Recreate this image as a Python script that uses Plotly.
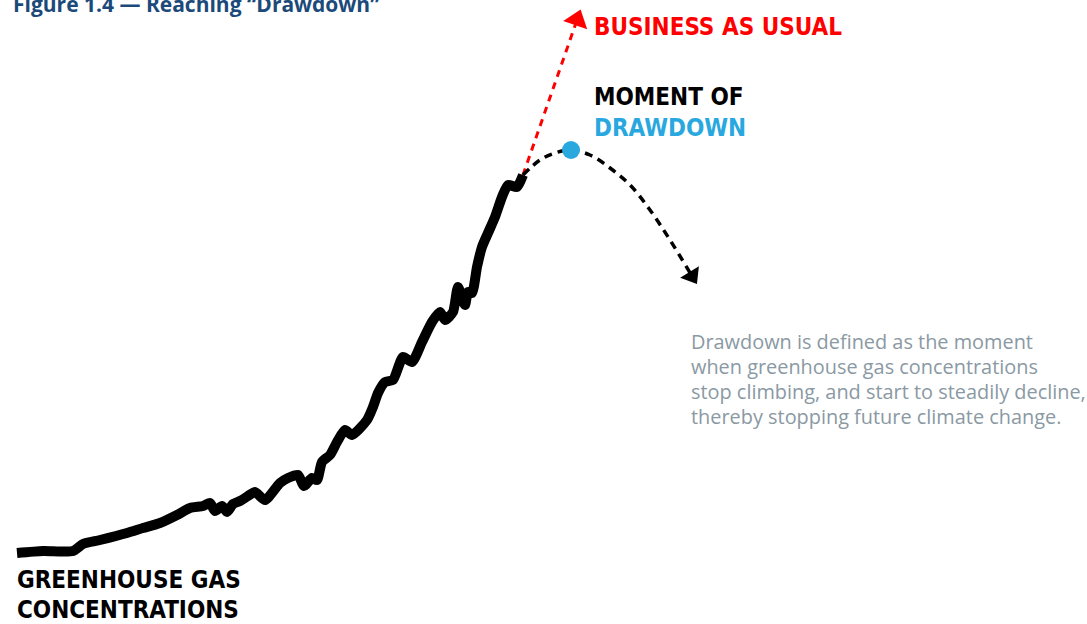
import plotly.graph_objects as go

# Historic greenhouse gas concentration (arbitrary index)
hist_t = [17, 43, 73, 83, 100, 127, 143, 160, 177, 190, 203, 210, 215, 222, 227,
          233, 240, 248, 255, 265, 280, 288, 298, 304, 312, 317, 322, 330, 337,
          345, 352, 367, 373, 378, 385, 393, 403, 412, 422, 432, 440, 445, 453,
          458, 465, 468, 472, 477, 482, 488, 495, 502, 508, 517, 523]
hist_level = [71, 73, 73, 80, 84, 91, 96, 101, 109, 116, 118, 121, 113, 118, 112,
              120, 123, 128, 132, 124, 141, 146, 149, 138, 146, 144, 162, 169, 182,
              194, 189, 204, 217, 231, 242, 244, 267, 262, 282, 302, 312, 304, 312,
              337, 319, 332, 331, 357, 377, 391, 407, 427, 439, 437, 449]

# Business-as-usual projection
bau_t = [523, 577]
bau_level = [449, 604]

# Drawdown projection
dd_t = [523, 540, 555, 571, 590, 610, 630, 650, 670, 692]
dd_level = [449, 464, 471, 474, 469, 456, 439, 414, 384, 348]

peak_t = [571]
peak_level = [474]

note_lines = [
    "Drawdown is defined as the moment",
    "when greenhouse gas concentrations",
    "stop climbing, and start to steadily decline,",
    "thereby stopping future climate change.",
]

fig = go.Figure()

fig.add_trace(go.Scatter(
    x=hist_t, y=hist_level,
    mode="lines",
    line=dict(color="#000000", width=10, shape="spline", smoothing=0.6),
    hoverinfo="skip", showlegend=False,
))

fig.add_trace(go.Scatter(
    x=bau_t, y=bau_level,
    mode="lines+markers",
    line=dict(color="#ff0000", width=3, dash="7px,6px"),
    marker=dict(symbol="triangle-up", size=[0, 22], color="#ff0000",
                opacity=1, line=dict(width=0), angleref="previous"),
    hoverinfo="skip", showlegend=False,
))

fig.add_trace(go.Scatter(
    x=dd_t, y=dd_level,
    mode="lines+markers",
    line=dict(color="#000000", width=3.5, dash="8px,6px", shape="spline"),
    marker=dict(symbol="triangle-up", size=[0] * (len(dd_t) - 1) + [19],
                color="#000000", opacity=1, line=dict(width=0),
                angleref="previous"),
    hoverinfo="skip", showlegend=False,
))

fig.add_trace(go.Scatter(
    x=peak_t, y=peak_level,
    mode="markers",
    marker=dict(size=18, color="#29a8e0"),
    hoverinfo="skip", showlegend=False,
))

head = dict(family="DejaVu Sans Condensed", size=24, color="#000000")

fig.add_annotation(x=592, y=597, text="<b>BUSINESS AS USUAL</b>",
                   font=dict(head, color="#ff0000"))
fig.add_annotation(x=592, y=527, text="<b>MOMENT OF</b>", font=head)
fig.add_annotation(x=592, y=496, text="<b>DRAWDOWN</b>",
                   font=dict(head, color="#29a8e0"))
fig.add_annotation(x=15, y=44, text="<b>GREENHOUSE GAS</b>", font=head)
fig.add_annotation(x=15, y=14, text="<b>CONCENTRATIONS</b>", font=head)

for i, line in enumerate(note_lines):
    fig.add_annotation(
        x=689, y=283 - 25.3 * i, text=line,
        font=dict(family="Open Sans", size=19.9, color="#8a99a3"),
    )

fig.add_annotation(
    x=11, y=620,
    text="<b>Figure 1.4 — Reaching “Drawdown”</b>",
    font=dict(family="Open Sans", size=21, color="#1b4a7a"),
)

fig.update_annotations(xref="x", yref="y", xanchor="left", showarrow=False)

fig.update_layout(
    width=1087, height=624,
    margin=dict(l=0, r=0, t=0, b=0),
    plot_bgcolor="#ffffff", paper_bgcolor="#ffffff",
)
fig.update_xaxes(visible=False, range=[0, 1087], fixedrange=True)
fig.update_yaxes(visible=False, range=[0, 624], fixedrange=True)

fig.write_html("out.html", config={"displayModeBar": False},
               post_script="document.body.style.margin = '0';")
